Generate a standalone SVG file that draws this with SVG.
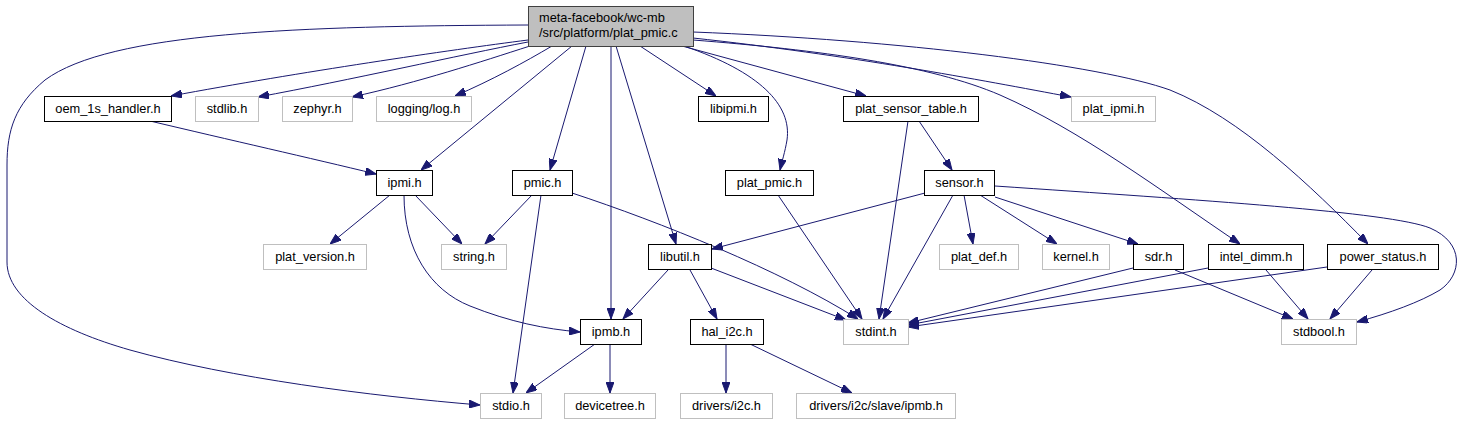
<svg xmlns="http://www.w3.org/2000/svg" width="1464" height="425" viewBox="0 0 1464 425">
<defs>
<style>
.n rect{fill:#fff;stroke:#000;stroke-width:1}
.x rect{fill:#fff;stroke:#bfbfbf;stroke-width:1}
.m rect{fill:#bfbfbf;stroke:#404040;stroke-width:1}
text{font-family:"Liberation Sans",Arial,sans-serif;font-size:12.8px;fill:#000}
.c{text-anchor:middle}
#edges path{fill:none;stroke:#191970;stroke-width:1;marker-end:url(#ah)}
</style>
<marker id="ah" markerWidth="11" markerHeight="8" refX="11" refY="4" orient="auto" markerUnits="userSpaceOnUse"><path d="M0,0 L11,4 L0,8 z" fill="#191970" stroke="#191970" stroke-width="1"/></marker>
</defs>
<rect width="1464" height="425" fill="#fff"/>
<g id="edges">
<path d="M528,40 C450,50 300,72 171,96"/>
<path d="M528,42 C460,55 350,80 258,97"/>
<path d="M530,46 C480,62 420,82 352,97"/>
<path d="M552,46 C525,62 492,80 455,96"/>
<path d="M572,46 L421,170"/>
<path d="M586,46 L550,170"/>
<path d="M611,46 L611,319"/>
<path d="M616,46 L676,244"/>
<path d="M640,46 L716,96"/>
<path d="M682,46 L866,96"/>
<path d="M684,46 C760,72 792,105 787,140 C785,152 782,161 780,170"/>
<path d="M693,38 C850,55 980,80 1071,97"/>
<path d="M693,40 C820,50 930,65 1000,95 C1080,130 1160,190 1240,244"/>
<path d="M693,32 C900,40 1100,65 1170,90 C1240,118 1310,185 1368,244"/>
<path d="M528,25 C300,26 110,32 45,80 C15,105 7,130 7,165 L7,262 C7,300 60,330 130,350 C230,378 370,396 480,405"/>
<path d="M150,121 C230,140 310,158 376,174"/>
<path d="M390,195 L330,244"/>
<path d="M415,195 L462,244"/>
<path d="M404,195 C404,250 430,290 470,306 C510,322 545,329 580,332"/>
<path d="M532,195 L485,244"/>
<path d="M541,195 L513,393"/>
<path d="M572,193 C660,222 780,270 858,319"/>
<path d="M778,195 L862,319"/>
<path d="M919,121 L952,170"/>
<path d="M908,121 L879,319"/>
<path d="M925,193 L712,249"/>
<path d="M953,195 L883,319"/>
<path d="M964,195 L973,244"/>
<path d="M980,195 L1057,244"/>
<path d="M995,197 L1138,244"/>
<path d="M995,186 C1200,200 1390,212 1430,228 C1465,243 1462,275 1440,290 C1420,302 1390,313 1357,322"/>
<path d="M668,270 L623,319"/>
<path d="M690,270 L717,319"/>
<path d="M711,268 L846,320"/>
<path d="M1133,268 L908,323"/>
<path d="M1175,270 L1293,319"/>
<path d="M1208,268 L908,325"/>
<path d="M1266,270 L1308,319"/>
<path d="M1327,267 L908,327"/>
<path d="M1372,270 L1330,319"/>
<path d="M595,344 L526,393"/>
<path d="M610,344 L610,393"/>
<path d="M726,344 L726,393"/>
<path d="M750,344 L852,393"/>
</g>
<g id="main" class="m"><rect x="528.5" y="6.5" width="165" height="40"/><text x="539" y="22">meta-facebook/wc-mb</text><text x="539" y="37">/src/platform/plat_pmic.c</text></g>
<g id="oem_1s_handler" class="n"><rect x="44.5" y="96.5" width="127" height="25"/><text class="c" x="108" y="113">oem_1s_handler.h</text></g>
<g id="stdlib" class="x"><rect x="195.5" y="96.5" width="63" height="25"/><text class="c" x="227" y="113">stdlib.h</text></g>
<g id="zephyr" class="x"><rect x="282.5" y="96.5" width="70" height="25"/><text class="c" x="317.5" y="113">zephyr.h</text></g>
<g id="logging_log" class="x"><rect x="376.5" y="96.5" width="95" height="25"/><text class="c" x="424" y="113">logging/log.h</text></g>
<g id="libipmi" class="n"><rect x="698.5" y="96.5" width="70" height="25"/><text class="c" x="733.5" y="113">libipmi.h</text></g>
<g id="plat_sensor_table" class="n"><rect x="843.5" y="96.5" width="135" height="25"/><text class="c" x="911" y="113">plat_sensor_table.h</text></g>
<g id="plat_ipmi" class="x"><rect x="1071.5" y="96.5" width="84" height="25"/><text class="c" x="1113.5" y="113">plat_ipmi.h</text></g>
<g id="ipmi" class="n"><rect x="376.5" y="170.5" width="56" height="25"/><text class="c" x="404.5" y="187">ipmi.h</text></g>
<g id="pmic" class="n"><rect x="512.5" y="170.5" width="60" height="25"/><text class="c" x="542.5" y="187">pmic.h</text></g>
<g id="plat_pmic" class="n"><rect x="725.5" y="170.5" width="88" height="25"/><text class="c" x="769.5" y="187">plat_pmic.h</text></g>
<g id="sensor" class="n"><rect x="924.5" y="170.5" width="70" height="25"/><text class="c" x="959.5" y="187">sensor.h</text></g>
<g id="plat_version" class="x"><rect x="263.5" y="244.5" width="103" height="25"/><text class="c" x="315" y="261">plat_version.h</text></g>
<g id="string" class="x"><rect x="441.5" y="244.5" width="65" height="25"/><text class="c" x="474" y="261">string.h</text></g>
<g id="libutil" class="n"><rect x="648.5" y="244.5" width="63" height="25"/><text class="c" x="680" y="261">libutil.h</text></g>
<g id="plat_def" class="x"><rect x="939.5" y="244.5" width="79" height="25"/><text class="c" x="979" y="261">plat_def.h</text></g>
<g id="kernel" class="x"><rect x="1042.5" y="244.5" width="67" height="25"/><text class="c" x="1076" y="261">kernel.h</text></g>
<g id="sdr" class="n"><rect x="1133.5" y="244.5" width="50" height="25"/><text class="c" x="1158.5" y="261">sdr.h</text></g>
<g id="intel_dimm" class="n"><rect x="1208.5" y="244.5" width="95" height="25"/><text class="c" x="1256" y="261">intel_dimm.h</text></g>
<g id="power_status" class="n"><rect x="1327.5" y="244.5" width="111" height="25"/><text class="c" x="1383" y="261">power_status.h</text></g>
<g id="ipmb" class="n"><rect x="580.5" y="319.5" width="61" height="25"/><text class="c" x="611" y="336">ipmb.h</text></g>
<g id="hal_i2c" class="n"><rect x="690.5" y="319.5" width="73" height="25"/><text class="c" x="727" y="336">hal_i2c.h</text></g>
<g id="stdint" class="x"><rect x="843.5" y="319.5" width="65" height="25"/><text class="c" x="876" y="336">stdint.h</text></g>
<g id="stdbool" class="x"><rect x="1281.5" y="319.5" width="75" height="25"/><text class="c" x="1319" y="336">stdbool.h</text></g>
<g id="stdio" class="x"><rect x="480.5" y="393.5" width="61" height="25"/><text class="c" x="511" y="410">stdio.h</text></g>
<g id="devicetree" class="x"><rect x="564.5" y="393.5" width="91" height="25"/><text class="c" x="610" y="410">devicetree.h</text></g>
<g id="drivers_i2c" class="x"><rect x="680.5" y="393.5" width="92" height="25"/><text class="c" x="726.5" y="410">drivers/i2c.h</text></g>
<g id="drivers_i2c_slave_ipmb" class="x"><rect x="796.5" y="393.5" width="159" height="25"/><text class="c" x="876" y="410">drivers/i2c/slave/ipmb.h</text></g>
</svg>
